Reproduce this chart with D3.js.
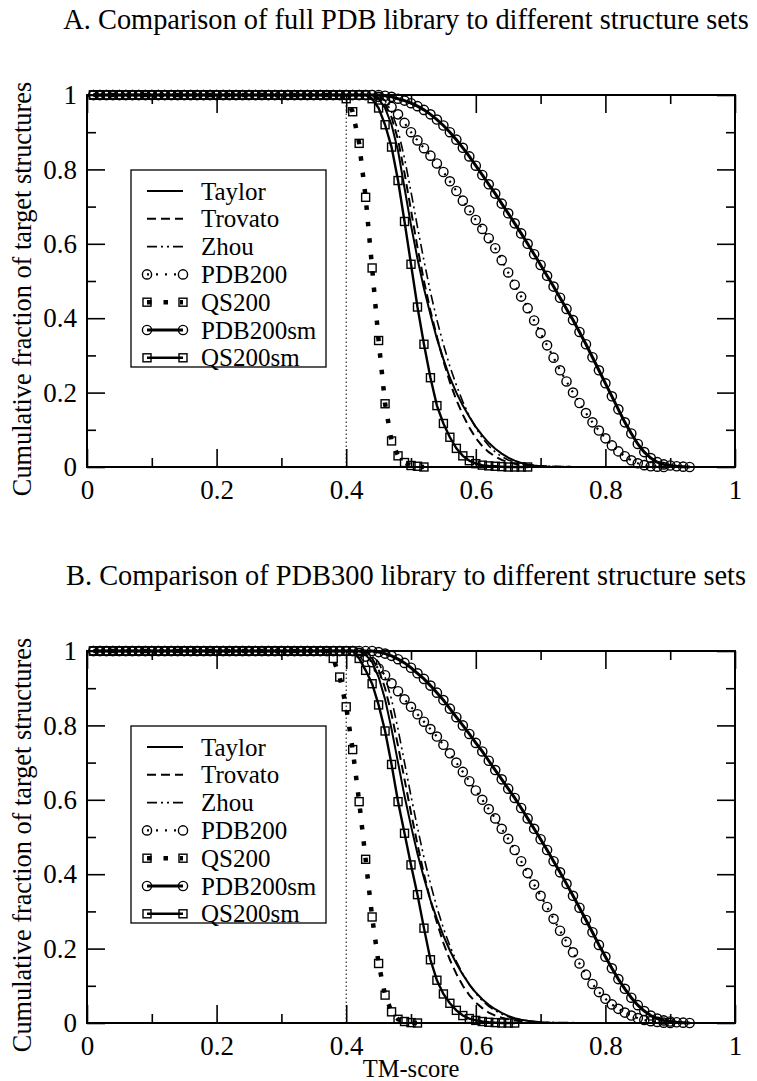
<!DOCTYPE html>
<html><head><meta charset="utf-8">
<script src="https://cdn.jsdelivr.net/npm/d3@7"></script>
<style>body{margin:0;background:#fff}svg{display:block}text{font-family:"Liberation Serif","Times New Roman",serif;fill:#000}</style>
</head><body>
<svg id="chart" width="757" height="1081"></svg>
<script>
// ---------------- DATA ----------------
const tmScore = [0.01,0.02,0.03,0.04,0.05,0.06,0.07,0.08,0.09,0.10,
0.11,0.12,0.13,0.14,0.15,0.16,0.17,0.18,0.19,0.20,
0.21,0.22,0.23,0.24,0.25,0.26,0.27,0.28,0.29,0.30,
0.31,0.32,0.33,0.34,0.35,0.36,0.37,0.38,0.39,0.40,
0.41,0.42,0.43,0.44,0.45,0.46,0.47,0.48,0.49,0.50,
0.51,0.52,0.53,0.54,0.55,0.56,0.57,0.58,0.59,0.60,
0.61,0.62,0.63,0.64,0.65,0.66,0.67,0.68,0.69,0.70,
0.71,0.72,0.73,0.74,0.75,0.76,0.77,0.78,0.79,0.80,
0.81,0.82,0.83,0.84,0.85,0.86,0.87,0.88,0.89,0.90,
0.91,0.92,0.93];

const seriesNames = ["Taylor","Trovato","Zhou","PDB200","QS200","PDB200sm","QS200sm"];
const titleA = "A. Comparison of full PDB library to different structure sets";
const titleB = "B. Comparison of PDB300 library to different structure sets";
const xTicks = [0,0.2,0.4,0.6,0.8,1];
const yTicks = [0,0.2,0.4,0.6,0.8,1];
const xLabel = "TM-score";
const yLabel = "Cumulative fraction of target structures";
const cutoff = 0.4;

// Panel A
const taylorA = [1,1,1,1,1,1,1,1,1,1, 1,1,1,1,1,1,1,1,1,1, 1,1,1,1,1,1,1,1,1,1, 1,1,1,1,1,1,1,1,1,1, 1,1,1,1,
0.99,0.965,0.92,0.85,0.75,0.65,0.56,0.48,0.41,0.345,0.29,0.24,0.2,0.165,0.135,0.108,0.085,0.065,0.049,0.036,0.025,0.017,0.011,0.007,0.004,0.002,0.001,0];
const trovatoA = [1,1,1,1,1,1,1,1,1,1, 1,1,1,1,1,1,1,1,1,1, 1,1,1,1,1,1,1,1,1,1, 1,1,1,1,1,1,1,1,1,1, 1,1,1,1,
0.993,0.975,0.94,0.88,0.79,0.69,0.59,0.5,0.42,0.35,0.285,0.228,0.18,0.14,0.106,0.078,0.056,0.04,0.028,0.019,0.013,0.009,0.006,0.004,0.003,0.002,0.002,0.001,0.001,0.001,0];
const zhouA = [1,1,1,1,1,1,1,1,1,1, 1,1,1,1,1,1,1,1,1,1, 1,1,1,1,1,1,1,1,1,1, 1,1,1,1,1,1,1,1,1,1, 1,1,1,1,1,
0.985,0.955,0.905,0.83,0.74,0.645,0.555,0.47,0.395,0.33,0.27,0.22,0.175,0.137,0.105,0.078,0.057,0.04,0.028,0.019,0.013,0.009,0.006,0.004,0.003,0.002,0.002,0.001,0.001,0.001,0,0,0];
const pdb200A = [1,1,1,1,1,1,1,1,1,1, 1,1,1,1,1,1,1,1,1,1, 1,1,1,1,1,1,1,1,1,1, 1,1,1,1,1,1,1,1,1,1, 1,1,1,1,
0.995,0.985,0.968,0.948,0.925,0.9,0.878,0.857,0.837,0.816,0.793,0.768,0.742,0.716,0.69,0.664,0.64,0.615,0.588,0.556,0.523,0.49,0.458,0.427,0.394,0.36,0.327,0.294,0.26,0.23,0.2,0.172,0.145,0.12,0.098,0.077,0.058,0.042,0.029,0.018,0.01,0.005,0.002,0.001,0];
const qs200A = [1,1,1,1,1,1,1,1,1,1, 1,1,1,1,1,1,1,1,1,1, 1,1,1,1,1,1,1,1,1,1, 1,1,1,1,1,1,1,1,1,
0.99,0.955,0.87,0.725,0.535,0.34,0.17,0.07,0.03,0.012,0.004,0.002,0];
const pdb200smA = [1,1,1,1,1,1,1,1,1,1, 1,1,1,1,1,1,1,1,1,1, 1,1,1,1,1,1,1,1,1,1, 1,1,1,1,1,1,1,1,1,1, 1,1,1,1,
1,0.998,0.995,0.99,0.985,0.978,0.97,0.96,0.948,0.934,0.918,0.9,0.88,0.858,0.835,0.81,0.785,0.76,0.735,0.708,0.682,0.655,0.628,0.6,0.572,0.543,0.514,0.485,0.455,0.425,0.395,0.363,0.33,0.295,0.26,0.225,0.19,0.155,0.12,0.09,0.062,0.04,0.024,0.013,0.007,0.004,0.002,0.001,0];
const qs200smA = [1,1,1,1,1,1,1,1,1,1, 1,1,1,1,1,1,1,1,1,1, 1,1,1,1,1,1,1,1,1,1, 1,1,1,1,1,1,1,1,1,1, 1,1,1,
0.99,0.965,0.92,0.86,0.77,0.66,0.545,0.43,0.33,0.24,0.165,0.117,0.08,0.05,0.03,0.017,0.009,0.005,0.003,0.002,0.001,0,0,0,0];

// Panel B
const taylorB = [1,1,1,1,1,1,1,1,1,1, 1,1,1,1,1,1,1,1,1,1, 1,1,1,1,1,1,1,1,1,1, 1,1,1,1,1,1,1,1,1,1, 1,1,
0.99,0.97,0.93,0.87,0.79,0.7,0.61,0.53,0.455,0.39,0.33,0.28,0.235,0.195,0.16,0.13,0.104,0.082,0.064,0.049,0.037,0.027,0.019,0.013,0.009,0.006,0.004,0.002,0.001,0];
const trovatoB = [1,1,1,1,1,1,1,1,1,1, 1,1,1,1,1,1,1,1,1,1, 1,1,1,1,1,1,1,1,1,1, 1,1,1,1,1,1,1,1,1,1, 1,1,
0.995,0.98,0.95,0.9,0.83,0.745,0.655,0.565,0.48,0.4,0.33,0.27,0.215,0.17,0.132,0.1,0.075,0.055,0.04,0.028,0.02,0.014,0.01,0.007,0.005,0.003,0.002,0.001,0.001,0.001,0,0];
const zhouB = [1,1,1,1,1,1,1,1,1,1, 1,1,1,1,1,1,1,1,1,1, 1,1,1,1,1,1,1,1,1,1, 1,1,1,1,1,1,1,1,1,1, 1,1,1,
0.99,0.97,0.93,0.87,0.79,0.7,0.61,0.525,0.445,0.375,0.31,0.255,0.207,0.166,0.132,0.103,0.079,0.06,0.045,0.033,0.024,0.017,0.012,0.008,0.006,0.004,0.003,0.002,0.002,0.001,0.001,0.001,0,0,0];
const pdb200B = [1,1,1,1,1,1,1,1,1,1, 1,1,1,1,1,1,1,1,1,1, 1,1,1,1,1,1,1,1,1,1, 1,1,1,1,1,1,1,1,1,1, 1,
0.995,0.985,0.97,0.953,0.935,0.913,0.892,0.87,0.85,0.83,0.81,0.79,0.77,0.748,0.725,0.7,0.675,0.65,0.625,0.6,0.575,0.55,0.522,0.495,0.465,0.435,0.403,0.372,0.342,0.312,0.28,0.248,0.218,0.19,0.16,0.13,0.105,0.083,0.065,0.05,0.038,0.028,0.02,0.013,0.008,0.005,0.003,0.001,0];
const qs200B = [1,1,1,1,1,1,1,1,1,1, 1,1,1,1,1,1,1,1,1,1, 1,1,1,1,1,1,1,1,1,1, 1,1,1,1,1,1,1,
0.98,0.93,0.85,0.735,0.595,0.44,0.285,0.16,0.075,0.03,0.01,0.004,0.001,0];
const pdb200smB = [1,1,1,1,1,1,1,1,1,1, 1,1,1,1,1,1,1,1,1,1, 1,1,1,1,1,1,1,1,1,1, 1,1,1,1,1,1,1,1,1,1, 1,1,1,1,
0.997,0.993,0.987,0.978,0.968,0.955,0.94,0.925,0.907,0.888,0.868,0.845,0.822,0.8,0.777,0.753,0.73,0.705,0.68,0.655,0.63,0.605,0.578,0.55,0.522,0.494,0.465,0.435,0.405,0.374,0.342,0.31,0.277,0.244,0.21,0.178,0.147,0.118,0.092,0.068,0.048,0.032,0.02,0.012,0.007,0.004,0.002,0.001,0];
const qs200smB = [1,1,1,1,1,1,1,1,1,1, 1,1,1,1,1,1,1,1,1,1, 1,1,1,1,1,1,1,1,1,1, 1,1,1,1,1,1,1,1,1,1, 1,
0.98,0.948,0.912,0.855,0.785,0.695,0.595,0.51,0.425,0.345,0.255,0.17,0.115,0.078,0.053,0.034,0.02,0.012,0.007,0.004,0.002,0.001,0,0,0];

// ---------------- STYLES ----------------
const styles = {
  Taylor:   {width:2,   dash:null,            marker:null},
  Trovato:  {width:2,   dash:"9,5",           marker:null},
  Zhou:     {width:1.6, dash:"10,4,2,4,2,4",  marker:null},
  PDB200:   {width:2.2, dash:"2,7",           marker:"circle"},
  QS200:    {width:4.5, dash:"4.5,12",        marker:"square"},
  PDB200sm: {width:3,   dash:null,            marker:"circle"},
  QS200sm:  {width:2.4, dash:null,            marker:"square"}
};

const panels = [
  {title:titleA, top:95, data:{Taylor:taylorA, Trovato:trovatoA, Zhou:zhouA, PDB200:pdb200A, QS200:qs200A, PDB200sm:pdb200smA, QS200sm:qs200smA}, xLabel:null},
  {title:titleB, top:651, data:{Taylor:taylorB, Trovato:trovatoB, Zhou:zhouB, PDB200:pdb200B, QS200:qs200B, PDB200sm:pdb200smB, QS200sm:qs200smB}, xLabel:xLabel}
];

// ---------------- DRAW ----------------
const svg = d3.select("#chart");
const left = 87, right = 735, plotH = 372;
const x = d3.scaleLinear().domain([0,1]).range([left,right]);
const fmt = d3.format("");
const majorLen = 18, minorLen = 9;
const minorVals = [0.1,0.3,0.5,0.7,0.9];

function drawMarker(g, kind, cx, cy) {
  if (kind === "circle") {
    g.append("circle").attr("cx",cx).attr("cy",cy).attr("r",4.6)
      .attr("fill","none").attr("stroke","#000").attr("stroke-width",1.4);
  } else if (kind === "square") {
    g.append("rect").attr("x",cx-4).attr("y",cy-4).attr("width",8).attr("height",8)
      .attr("fill","none").attr("stroke","#000").attr("stroke-width",1.4);
  }
}

panels.forEach(p => {
  const top = p.top, bottom = top + plotH;
  const y = d3.scaleLinear().domain([0,1]).range([bottom, top]);
  const g = svg.append("g");

  // title
  g.append("text").attr("x", 406).attr("y", top - 66).attr("text-anchor","middle")
    .style("font-size","28.4px").text(p.title);

  // axes (ticks inward)
  const axB = d3.axisBottom(x).tickValues(xTicks).tickFormat(fmt).tickSizeInner(-majorLen).tickSizeOuter(0).tickPadding(13);
  const axT = d3.axisTop(x).tickValues(xTicks).tickFormat("").tickSizeInner(-majorLen).tickSizeOuter(0);
  const axL = d3.axisLeft(y).tickValues(yTicks).tickFormat(fmt).tickSizeInner(-majorLen).tickSizeOuter(0).tickPadding(10);
  const axR = d3.axisRight(y).tickValues(yTicks).tickFormat("").tickSizeInner(-majorLen).tickSizeOuter(0);
  const mB = d3.axisBottom(x).tickValues(minorVals).tickFormat("").tickSizeInner(-minorLen).tickSizeOuter(0);
  const mT = d3.axisTop(x).tickValues(minorVals).tickFormat("").tickSizeInner(-minorLen).tickSizeOuter(0);
  const mL = d3.axisLeft(y).tickValues(minorVals).tickFormat("").tickSizeInner(-minorLen).tickSizeOuter(0);
  const mR = d3.axisRight(y).tickValues(minorVals).tickFormat("").tickSizeInner(-minorLen).tickSizeOuter(0);

  const axes = [
    [axB, `translate(0,${bottom})`], [axT, `translate(0,${top})`],
    [axL, `translate(${left},0)`], [axR, `translate(${right},0)`],
    [mB, `translate(0,${bottom})`], [mT, `translate(0,${top})`],
    [mL, `translate(${left},0)`], [mR, `translate(${right},0)`]
  ];
  axes.forEach(([a,t]) => {
    const ag = g.append("g").attr("transform", t).call(a);
    ag.select(".domain").remove();
    ag.selectAll("line").attr("stroke","#000").attr("stroke-width",1.6);
    ag.selectAll("text").style("font-size","27px").style("font-family",'"Liberation Serif",serif').attr("fill","#000");
  });

  // frame
  g.append("rect").attr("x",left).attr("y",top).attr("width",right-left).attr("height",plotH)
    .attr("fill","none").attr("stroke","#000").attr("stroke-width",2);

  // y label
  g.append("text").attr("transform",`translate(31,${top+194}) rotate(-90)`)
    .attr("text-anchor","middle").style("font-size","26.3px").text(yLabel);

  // cutoff dotted line
  g.append("line").attr("x1",x(cutoff)).attr("x2",x(cutoff)).attr("y1",y(0)).attr("y2",y(1))
    .attr("stroke","#000").attr("stroke-width",1).attr("stroke-dasharray","1.5,2.5");

  // series
  const line = d3.line().x(d=>x(d[0])).y(d=>y(d[1]));
  seriesNames.forEach(name => {
    const st = styles[name];
    const pts = p.data[name].map((v,i)=>[tmScore[i], v]);
    g.append("path").datum(pts).attr("d", line).attr("fill","none")
      .attr("stroke","#000").attr("stroke-width", st.width)
      .attr("stroke-dasharray", st.dash);
    if (st.marker) {
      const mg = g.append("g");
      pts.forEach(d => drawMarker(mg, st.marker, x(d[0]), y(d[1])));
    }
  });

  // legend
  const lgTop = top + 75;
  const lg = g.append("g");
  lg.append("rect").attr("x",131).attr("y",lgTop).attr("width",195).attr("height",197)
    .attr("fill","#fff").attr("stroke","#000").attr("stroke-width",1.3);
  seriesNames.forEach((name,i) => {
    const st = styles[name];
    const cy = lgTop + 21 + i*27.8;
    lg.append("line").attr("x1",147).attr("x2",183).attr("y1",cy).attr("y2",cy)
      .attr("stroke","#000").attr("stroke-width",st.width).attr("stroke-dasharray",st.dash);
    if (st.marker) { drawMarker(lg, st.marker, 147, cy); drawMarker(lg, st.marker, 183, cy); }
    lg.append("text").attr("x",201).attr("y",cy+8.5).style("font-size","25px").text(name);
  });

  if (p.xLabel) {
    g.append("text").attr("x",411).attr("y",bottom+54).attr("text-anchor","middle")
      .style("font-size","24.5px").text(p.xLabel);
  }
});
</script>
</body></html>
